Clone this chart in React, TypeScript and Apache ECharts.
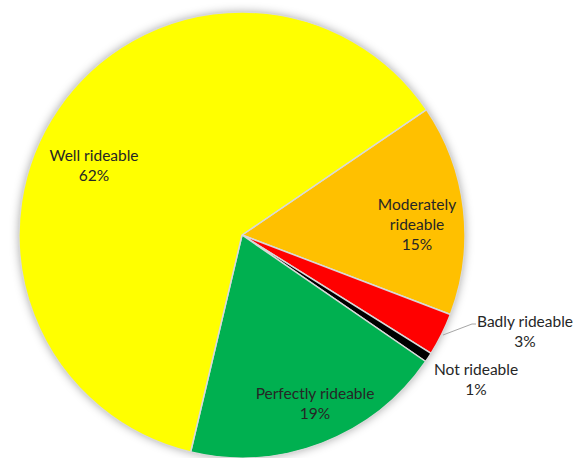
import React, { useEffect, useRef } from "react";
import * as echarts from "echarts";

const categories = [
  "Moderately rideable",
  "Badly rideable",
  "Not rideable",
  "Perfectly rideable",
  "Well rideable",
];
const labelTexts = [
  "Moderately\nrideable",
  "Badly rideable",
  "Not rideable",
  "Perfectly rideable",
  "Well rideable",
];
const shares = [15.3, 3.1, 0.7, 19.1, 61.8];
const colors = ["#FFC000", "#FF0000", "#000000", "#00B050", "#FFFF00"];
const labelAnchors: number[][] = [
  [417, 224],
  [525, 331],
  [476, 379],
  [315, 403],
  [94, 165],
];
const badlyLine: number[][] = [
  [443, 335],
  [472, 324],
  [476, 324],
];

export default function App() {
  const ref = useRef<HTMLDivElement>(null);
  useEffect(() => {
    if (!ref.current) return;
    const chart = echarts.init(ref.current, undefined, { renderer: "svg" });
    const data = categories.map((name, i) => ({
      name,
      value: shares[i],
      itemStyle: { color: colors[i] },
      label:
        i === 1 || i === 2
          ? { position: "outside" as const }
          : { position: "inside" as const },
      labelLine: { show: i === 1, lineStyle: { color: "#a6a6a6", width: 1 } },
    }));
    chart.setOption({
      animation: false,
      backgroundColor: "#ffffff",
      series: [
        {
          type: "pie",
          silent: true,
          center: [242, 235],
          radius: 223,
          z: 1,
          label: { show: false },
          labelLine: { show: false },
          itemStyle: {
            color: "#ffffff",
            shadowBlur: 10,
            shadowColor: "rgba(0,0,0,0.35)",
          },
          data: [{ value: 1, name: "bg" }],
        },
        {
          type: "pie",
          z: 2,
          center: [242, 235],
          radius: 223,
          startAngle: 34.2,
          clockwise: true,
          avoidLabelOverlap: false,
          itemStyle: { borderColor: "#d9d9d9", borderWidth: 1.5 },
          label: {
            show: true,
            color: "#262626",
            fontFamily: "Lato",
            fontSize: 15.5,
            lineHeight: 20,
            align: "center",
            formatter: (p: any) =>
              `${labelTexts[p.dataIndex]}\n${Math.round(p.percent)}%`,
          },
          labelLayout: (p: any) => {
            const i = p.dataIndex;
            const res: any = {
              x: labelAnchors[i][0],
              y: labelAnchors[i][1],
              align: "center",
              verticalAlign: "middle",
            };
            if (i === 1) res.labelLinePoints = badlyLine;
            return res;
          },
          data,
        },
      ],
    });
    return () => chart.dispose();
  }, []);
  return (
    <div
      ref={ref}
      style={{ position: "fixed", left: 0, top: 0, width: 583, height: 458 }}
    />
  );
}
